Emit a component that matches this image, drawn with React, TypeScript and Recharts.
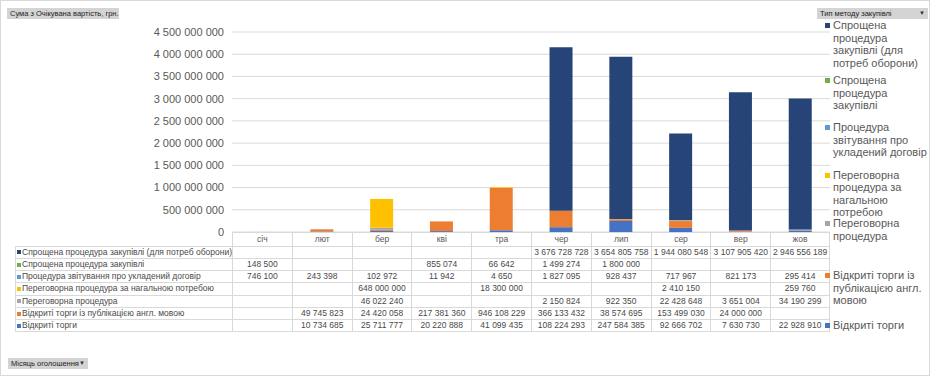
import { BarChart, Bar, XAxis, YAxis, CartesianGrid } from "recharts";

const months = ["січ", "лют", "бер", "кві", "тра", "чер", "лип", "сер", "вер", "жов"];

// stack order: bottom -> top
const seriesNames = [
  "Відкриті торги",
  "Відкриті торги із публікацією англ. мовою",
  "Переговорна процедура",
  "Переговорна процедура за нагальною потребою",
  "Процедура звітування про укладений договір",
  "Спрощена процедура закупівлі",
  "Спрощена процедура закупівлі (для потреб оборони)",
];

const colors = ["#4472C4", "#ED7D31", "#A5A5A5", "#FFC000", "#5B9BD5", "#70AD47", "#264478"];

const vidkryti = [null, 10734685, 25711777, 20220888, 41099435, 108224293, 247584385, 92666702, 7630730, 22928910];
const vidkrytiAngl = [null, 49745823, 24420058, 217381360, 946108229, 366133432, 38574695, 153499030, 24000000, null];
const peregovorna = [null, null, 46022240, null, null, 2150824, 922350, 22428648, 3651004, 34190299];
const peregovornaNagalna = [null, null, 648000000, null, 18300000, null, null, 2410150, null, 259760];
const zvituvannya = [746100, 243398, 102972, 11942, 4650, 1827095, 928437, 717967, 821173, 295414];
const sproshchena = [148500, null, null, 855074, 66642, 1499274, 1800000, null, null, null];
const sproshchenaOborona = [null, null, null, null, null, 3676728728, 3654805758, 1944080548, 3107905420, 2946556189];

const seriesValues = [vidkryti, vidkrytiAngl, peregovorna, peregovornaNagalna, zvituvannya, sproshchena, sproshchenaOborona];

const yTicks = [0, 500000000, 1000000000, 1500000000, 2000000000, 2500000000, 3000000000, 3500000000, 4000000000, 4500000000];

// legend labels as Excel wraps them
const legendLines = [
  ["Спрощена", "процедура", "закупівлі (для", "потреб оборони)"],
  ["Спрощена", "процедура", "закупівлі"],
  ["Процедура", "звітування про", "укладений договір"],
  ["Переговорна", "процедура за", "нагальною", "потребою"],
  ["Переговорна", "процедура"],
  ["Відкриті торги із", "публікацією англ.", "мовою"],
  ["Відкриті торги"],
];
const legendTops = [19, 74, 121, 168.5, 217, 269, 319];

const fmt = (v: number | null) =>
  v == null ? "" : String(v).replace(/\B(?=(\d{3})+(?!\d))/g, " ");

const data = months.map((m, i) => {
  const row: Record<string, any> = { month: m };
  seriesValues.forEach((arr, s) => (row["s" + s] = arr[i]));
  return row;
});

const FONT = '"Liberation Sans", Arial, sans-serif';
const PLOT_LEFT = 232;
const PLOT_RIGHT = 830;
const COL_W = (PLOT_RIGHT - PLOT_LEFT) / months.length;
const TABLE_TOP = 232;
const HEAD_H = 13.5;
const ROW_H = 12.3;
const GRID = "#D9D9D9";

function PivotButton({ text, left, top, width }: { text: string; left: number; top: number; width: number }) {
  return (
    <div
      style={{
        position: "absolute",
        left,
        top,
        width,
        height: 11,
        background: "#D4D4D4",
        fontSize: 7.5,
        lineHeight: "11px",
        color: "#222",
        paddingLeft: 3,
        boxSizing: "border-box",
        whiteSpace: "nowrap",
      }}
    >
      {text}
    </div>
  );
}

export default function App() {
  const tableRows = [...seriesNames.keys()].reverse();
  return (
    <div
      style={{
        position: "absolute",
        left: 0,
        top: 0,
        width: 930,
        height: 376,
        background: "#fff",
        fontFamily: FONT,
        overflow: "hidden",
      }}
    >
      <div
        style={{
          position: "absolute",
          left: 0,
          top: 0,
          width: 928,
          height: 374,
          border: "1px solid #D9D9D9",
        }}
      />
      <BarChart
        width={930}
        height={376}
        data={data}
        margin={{ top: 32, right: 930 - PLOT_RIGHT, left: PLOT_LEFT - 100, bottom: 376 - TABLE_TOP }}
        barCategoryGap="31%"
        style={{ position: "absolute", left: 0, top: 0 }}
      >
        <CartesianGrid vertical={false} stroke={GRID} />
        <XAxis dataKey="month" hide />
        <YAxis
          width={100}
          domain={[0, 4500000000]}
          ticks={yTicks}
          tickFormatter={(v: number) => fmt(v)}
          tick={{ fill: "#595959", fontSize: 11, fontFamily: FONT }}
          axisLine={false}
          tickLine={false}
          tickMargin={2}
          interval={0}
        />
        {seriesNames.map((name, s) => (
          <Bar
            key={name}
            dataKey={"s" + s}
            name={name}
            stackId="a"
            fill={colors[s]}
            isAnimationActive={false}
          />
        ))}
      </BarChart>

      {/* data table */}
      <div style={{ position: "absolute", left: 0, top: TABLE_TOP, fontSize: 8.5, color: "#4a4a4a" }}>
        {months.map((m, i) => (
          <div
            key={m}
            style={{
              position: "absolute",
              left: PLOT_LEFT + i * COL_W,
              top: 0,
              width: COL_W,
              height: HEAD_H,
              borderLeft: `1px solid ${GRID}`,
              borderTop: `1px solid ${GRID}`,
              borderRight: i === months.length - 1 ? `1px solid ${GRID}` : undefined,
              boxSizing: "border-box",
              textAlign: "center",
              lineHeight: `${HEAD_H}px`,
              color: "#595959",
            }}
          >
            {m}
          </div>
        ))}
        {tableRows.map((s, r) => {
          const top = HEAD_H + r * ROW_H;
          return (
            <div key={s}>
              <div
                style={{
                  position: "absolute",
                  left: 15,
                  top,
                  width: PLOT_LEFT - 15,
                  height: ROW_H,
                  borderLeft: `1px solid ${GRID}`,
                  borderTop: `1px solid ${GRID}`,
                  borderBottom: r === tableRows.length - 1 ? `1px solid ${GRID}` : undefined,
                  boxSizing: "border-box",
                  lineHeight: `${ROW_H - 1}px`,
                  whiteSpace: "nowrap",
                  paddingLeft: 1,
                }}
              >
                <span
                  style={{
                    display: "inline-block",
                    width: 4,
                    height: 4,
                    background: colors[s],
                    marginRight: 1,
                    verticalAlign: "middle",
                  }}
                />
                {seriesNames[s]}
              </div>
              {months.map((m, i) => (
                <div
                  key={m}
                  style={{
                    position: "absolute",
                    left: PLOT_LEFT + i * COL_W,
                    top,
                    width: COL_W,
                    height: ROW_H,
                    borderLeft: `1px solid ${GRID}`,
                    borderTop: `1px solid ${GRID}`,
                    borderRight: i === months.length - 1 ? `1px solid ${GRID}` : undefined,
                    borderBottom: r === tableRows.length - 1 ? `1px solid ${GRID}` : undefined,
                    boxSizing: "border-box",
                    textAlign: "center",
                    lineHeight: `${ROW_H - 1}px`,
                    whiteSpace: "nowrap",
                  }}
                >
                  {fmt(seriesValues[s][i])}
                </div>
              ))}
            </div>
          );
        })}
      </div>

      {/* legend */}
      {legendLines.map((lines, k) => {
        const s = seriesNames.length - 1 - k;
        return (
          <div
            key={k}
            style={{
              position: "absolute",
              left: 825,
              top: legendTops[k],
              fontSize: 11,
              lineHeight: "12.5px",
              color: "#595959",
              whiteSpace: "pre",
            }}
          >
            <span
              style={{
                position: "absolute",
                left: 0,
                top: 4,
                width: 5,
                height: 5,
                background: colors[s],
              }}
            />
            <div style={{ marginLeft: 8 }}>
              {lines.map((l, j) => (
                <div key={j}>{l}</div>
              ))}
            </div>
          </div>
        );
      })}

      <PivotButton text="Сума з Очікувана вартість, грн." left={7} top={8} width={112} />
      <div style={{ position: "absolute", left: 817, top: 8 }}>
        <PivotButton text="Тип методу закупівлі" left={0} top={0} width={111} />
        <div style={{ position: "absolute", left: 102, top: 0, fontSize: 6, lineHeight: "11px", color: "#333" }}>▼</div>
      </div>
      <div style={{ position: "absolute", left: 8, top: 358 }}>
        <PivotButton text="Місяць оголошення" left={0} top={0} width={80} />
        <div style={{ position: "absolute", left: 71, top: 0, fontSize: 6, lineHeight: "11px", color: "#333" }}>▼</div>
      </div>
    </div>
  );
}
